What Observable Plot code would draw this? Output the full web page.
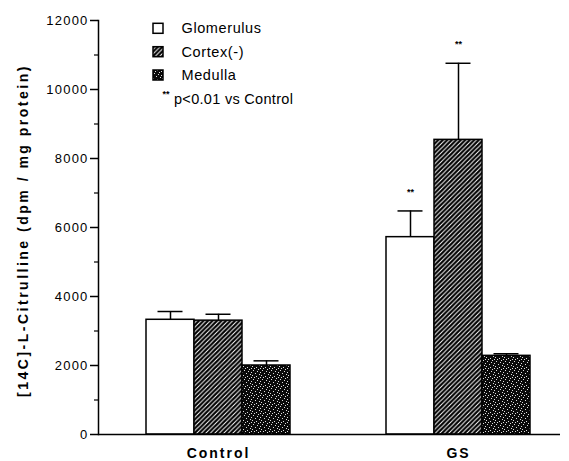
<!DOCTYPE html>
<html>
<head>
<meta charset="utf-8">
<script src="https://cdn.jsdelivr.net/npm/d3@7"></script>
<script src="https://cdn.jsdelivr.net/npm/@observablehq/plot@0.6"></script>
<style>
  body { margin: 0; background: #fff; }
  #chart svg { display: block; }
  g[aria-label="x-axis tick label"] text { letter-spacing: 2px; }
  g[aria-label="y-axis tick label"] text { letter-spacing: 1.2px; }
  .ylab text { letter-spacing: 2.5px; }
</style>
</head>
<body>
<div id="chart"></div>
<script>
// ---- data ----
const groups = ["Control", "GS"];
const series = ["Glomerulus", "Cortex(-)", "Medulla"];
const glomerulus = [3325, 5720];
const cortex = [3300, 8540];
const medulla = [2000, 2280];
const glomerulusErr = [240, 760];
const cortexErr = [185, 2220];
const medullaErr = [135, 60];
const glomerulusSig = [false, true];
const cortexSig = [false, true];
const medullaSig = [false, false];
const yTicks = [0, 2000, 4000, 6000, 8000, 10000, 12000];
const yMinorTicks = [1000, 3000, 5000, 7000, 9000, 11000];
const yLabel = "[14C]-L-Citrulline (dpm / mg protein)";
const noteText = "p<0.01 vs Control";

// ---- table ----
const values = [glomerulus, cortex, medulla];
const errs = [glomerulusErr, cortexErr, medullaErr];
const sigs = [glomerulusSig, cortexSig, medullaSig];
const rows = [];
groups.forEach((g, gi) => series.forEach((s, si) => rows.push({
  group: g, series: s, key: g + "|" + s,
  value: values[si][gi], err: errs[si][gi], sig: sigs[si][gi]
})));
const xDomain = [];
groups.forEach((g, gi) => {
  series.forEach(s => xDomain.push(g + "|" + s));
  if (gi < groups.length - 1) { xDomain.push("gap" + gi + "a"); xDomain.push("gap" + gi + "b"); }
});
const fills = ["white", "url(#hatch)", "url(#stipple)"];
const font = "'Liberation Sans', Arial, Helvetica, sans-serif";

const chart = Plot.plot({
  width: 569, height: 461,
  marginLeft: 98, marginRight: 9, marginTop: 20, marginBottom: 27,
  style: { fontFamily: font, background: "white", color: "black" },
  x: { domain: xDomain, paddingInner: 0, paddingOuter: 0.8125, align: 0.615, axis: null },
  y: { domain: [0, 12000], axis: null },
  marks: [
    ...series.map((s, si) => Plot.barY(rows.filter(d => d.series === s), {
      x: "key", y: "value", fill: fills[si], stroke: "black", strokeWidth: 1.5
    })),
    Plot.ruleX(rows, { x: "key", y1: "value", y2: d => d.value + d.err, stroke: "black", strokeWidth: 1.5 }),
    Plot.tickY(rows, { x: "key", y: d => d.value + d.err, stroke: "black", strokeWidth: 1.5, insetLeft: 11.5, insetRight: 11.5 }),
    Plot.text(rows.filter(d => d.sig), { x: "key", y: d => d.value + d.err, text: () => "**", dy: -19, fontSize: 9, fontWeight: "bold" }),
    Plot.ruleY([0], { stroke: "black", strokeWidth: 1.5 }),
    Plot.frame({ anchor: "left", stroke: "black", strokeWidth: 1.5 }),
    Plot.axisY({ ticks: yTicks, tickSize: 8, tickPadding: 2, fontSize: 13, tickFormat: d3.format("d"), label: null, strokeWidth: 1.5 }),
    Plot.axisY({ ticks: yMinorTicks, tickSize: 4, tickFormat: () => "", label: null, strokeWidth: 1.2 }),
    Plot.axisX({ ticks: rows.filter(d => d.series === series[1]).map(d => d.key), tickFormat: k => k.split("|")[0],
      tickSize: 0, tickPadding: 14, fontSize: 14, fontWeight: "bold", label: null }),
    Plot.text([yLabel], { text: d => d, frameAnchor: "left", textAnchor: "middle", rotate: -90, dx: -75, dy: 3,
      fontSize: 14, fontWeight: "bold", className: "ylab" })
  ]
});
document.getElementById("chart").appendChild(chart);

// ---- patterns & legend ----
const svg = d3.select(chart);
const defs = svg.insert("defs", ":first-child");
const hatch = defs.append("pattern").attr("id", "hatch").attr("patternUnits", "userSpaceOnUse")
  .attr("width", 4.5).attr("height", 4.5);
hatch.append("rect").attr("width", 4.5).attr("height", 4.5).attr("fill", "black");
hatch.append("path").attr("d", "M-1,5.5 L5.5,-1 M-1,1 L1,-1 M3.5,5.5 L5.5,3.5")
  .attr("stroke", "white").attr("stroke-width", 1.0);
const stip = defs.append("pattern").attr("id", "stipple").attr("patternUnits", "userSpaceOnUse")
  .attr("width", 9).attr("height", 9);
stip.append("rect").attr("width", 9).attr("height", 9).attr("fill", "#0a0a0a");
[[1,1],[5,2],[3,4],[7,5],[0,6],[4,7],[6,0],[8,8],[2,8],[8,3]].forEach(([a, b]) =>
  stip.append("rect").attr("x", a).attr("y", b).attr("width", 1).attr("height", 1).attr("fill", "#ddd"));

const leg = svg.append("g").attr("font-family", font).attr("font-size", 14.5).attr("text-anchor", "start");
const rowY = [28.3, 51.7, 75];
series.forEach((s, i) => {
  leg.append("rect").attr("x", 153).attr("y", rowY[i] - 5).attr("width", 10).attr("height", 10)
    .attr("fill", fills[i]).attr("stroke", "black").attr("stroke-width", 1.5);
  leg.append("text").attr("x", 181.5).attr("y", rowY[i]).attr("dy", "0.35em")
    .attr("letter-spacing", "0.6px").text(s);
});
leg.append("text").attr("x", 162.5).attr("y", 97).attr("font-size", 9).attr("font-weight", "bold").text("**");
leg.append("text").attr("x", 174).attr("y", 99).attr("dy", "0.35em").attr("letter-spacing", "0.3px").text(noteText);
</script>
</body>
</html>
